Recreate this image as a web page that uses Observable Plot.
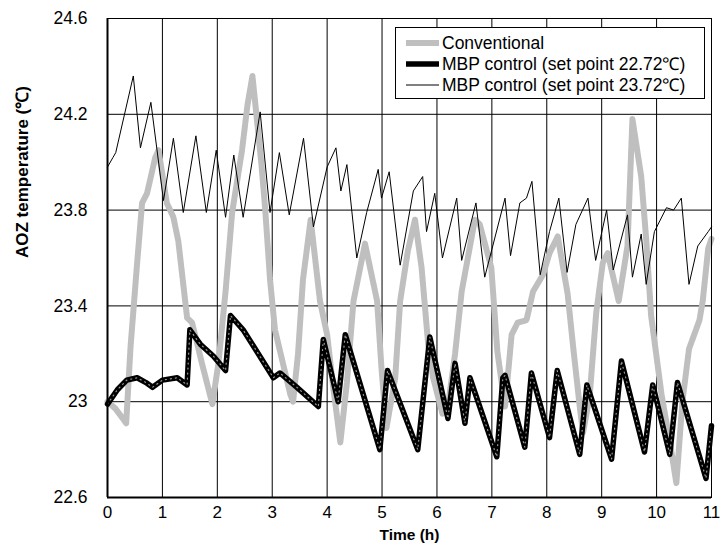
<!DOCTYPE html>
<html>
<head>
<meta charset="utf-8">
<script src="https://cdn.jsdelivr.net/npm/d3@7"></script>
<script src="https://cdn.jsdelivr.net/npm/@observablehq/plot@0.6"></script>
<style>
  html, body { margin: 0; padding: 0; background: #fff; }
  #wrap { position: relative; width: 720px; height: 548px; font-family: "Liberation Sans", Arial, sans-serif; }
  #legend { position: absolute; left: 395px; top: 27px; width: 308px; height: 70px; border: 1.5px solid #000; background: #fff; box-sizing: content-box; }
  .row { position: absolute; left: 0; height: 20px; font-size: 17.5px; line-height: 20px; white-space: nowrap; color: #000; }
  .row svg { position: absolute; left: 9px; top: 0; }
  .row span { position: absolute; left: 46px; top: 0; }
</style>
</head>
<body>
<div id="wrap">
  <div id="chart"></div>
  <div id="legend"></div>
</div>
<script>
// ---- data ----
const xTicks = [0,1,2,3,4,5,6,7,8,9,10,11];
const yTicks = [22.6,23,23.4,23.8,24.2,24.6];
const seriesNames = ["Conventional", "MBP control (set point 22.72\u2103)", "MBP control (set point 23.72\u2103)"];

const convTime = [0,0.15,0.34,0.42,0.54,0.63,0.72,0.87,0.93,1.08,1.2,1.29,1.45,1.54,1.72,1.91,2.02,2.15,2.27,2.45,2.55,2.64,2.72,2.8,2.87,2.96,3.05,3.33,3.38,3.47,3.56,3.7,3.87,4.0,4.1,4.24,4.36,4.48,4.69,4.91,4.99,5.08,5.24,5.33,5.47,5.6,5.72,5.84,5.93,6.1,6.2,6.33,6.45,6.69,6.78,6.99,7.1,7.24,7.36,7.47,7.63,7.75,7.93,8.05,8.2,8.38,8.48,8.6,8.66,8.78,8.9,9.02,9.11,9.31,9.47,9.56,9.6,9.72,9.81,9.9,10.09,10.25,10.36,10.47,10.59,10.78,10.84,10.94,11];
const convTemp = [23.0,22.97,22.91,23.23,23.58,23.83,23.87,24.02,24.05,23.83,23.77,23.67,23.35,23.33,23.16,22.99,23.16,23.46,23.79,24.05,24.24,24.36,24.18,24.0,23.81,23.51,23.3,23.03,23.0,23.2,23.51,23.76,23.42,23.28,23.08,22.83,23.08,23.42,23.66,23.42,23.14,22.89,23.1,23.42,23.63,23.76,23.56,23.24,23.1,22.95,22.98,23.2,23.46,23.76,23.74,23.56,23.21,22.98,23.28,23.33,23.34,23.46,23.53,23.62,23.69,23.45,23.23,22.98,22.87,23.02,23.37,23.58,23.62,23.42,23.65,24.18,24.12,23.94,23.68,23.36,23.03,22.82,22.66,23.0,23.22,23.34,23.42,23.64,23.68];

const mbp1Time = [0,0.18,0.35,0.54,0.7,0.82,1.0,1.27,1.45,1.5,1.69,1.93,2.15,2.24,2.47,2.72,3.02,3.14,3.45,3.84,3.93,4.2,4.33,4.96,5.1,5.65,5.87,6.2,6.33,6.51,6.6,7.09,7.2,7.24,7.6,7.72,8.05,8.19,8.6,8.73,9.18,9.36,9.78,9.93,10.24,10.38,10.9,11];
const mbp1Temp = [22.99,23.05,23.09,23.1,23.08,23.06,23.09,23.1,23.07,23.3,23.24,23.19,23.13,23.36,23.3,23.21,23.1,23.12,23.06,22.98,23.26,23.0,23.28,22.8,23.13,22.8,23.27,22.93,23.16,22.91,23.1,22.77,23.1,23.11,22.81,23.12,22.85,23.13,22.78,23.07,22.76,23.17,22.79,23.07,22.78,23.08,22.68,22.9];

const mbp2Time = [0,0.1,0.15,0.47,0.6,0.79,1.02,1.2,1.38,1.61,1.8,1.98,2.15,2.3,2.47,2.78,2.96,3.13,3.31,3.57,3.75,4.0,4.16,4.25,4.36,4.54,4.72,4.93,4.99,5.13,5.33,5.57,5.74,5.81,5.96,6.1,6.36,6.45,6.71,6.87,7.24,7.34,7.51,7.63,7.73,7.88,8.05,8.22,8.37,8.53,8.75,8.89,9.09,9.21,9.47,9.56,9.72,9.81,9.96,10.18,10.31,10.45,10.59,10.75,10.94,11];
const mbp2Temp = [23.98,24.02,24.04,24.36,24.06,24.25,23.84,24.1,23.79,24.11,23.79,24.05,23.77,24.03,23.77,24.21,23.79,24.04,23.78,24.1,23.73,23.98,24.06,23.88,23.99,23.6,23.79,23.97,23.85,23.96,23.57,23.88,23.94,23.71,23.87,23.6,23.85,23.59,23.83,23.52,23.85,23.61,23.83,23.85,23.92,23.53,23.71,23.85,23.54,23.74,23.85,23.59,23.8,23.55,23.78,23.52,23.7,23.49,23.71,23.81,23.8,23.85,23.49,23.65,23.71,23.73];

// ---- build tables ----
const conv = convTime.map((t,i) => ({t, v: convTemp[i]}));
const mbp1 = mbp1Time.map((t,i) => ({t, v: mbp1Temp[i]}));
const mbp2 = mbp2Time.map((t,i) => ({t, v: mbp2Temp[i]}));

const GRAY = "#bfbfbf";

const chart = Plot.plot({
  width: 720,
  height: 548,
  marginLeft: 107,
  marginRight: 9,
  marginTop: 18,
  marginBottom: 51,
  style: { fontFamily: "'Liberation Sans', Arial, sans-serif", fontSize: "17px", color: "#000", background: "#fff" },
  x: { domain: [0, 11] },
  y: { domain: [22.6, 24.6] },
  marks: [
    Plot.gridX(xTicks, { stroke: "#000", strokeOpacity: 1, strokeWidth: 1 }),
    Plot.gridY(yTicks, { stroke: "#000", strokeOpacity: 1, strokeWidth: 1 }),
    Plot.axisX(xTicks, { tickSize: 0, tickPadding: 8, label: null, fontSize: 17, tickFormat: d => String(d) }),
    Plot.axisY(yTicks, { tickSize: 0, tickPadding: 20, label: null, fontSize: 17.5, tickFormat: d => String(d) }),
    Plot.line(conv, { x: "t", y: "v", stroke: GRAY, strokeWidth: 6, strokeDasharray: "11,1.5", strokeLinejoin: "round" }),
    Plot.line(mbp1, { x: "t", y: "v", stroke: "#000", strokeWidth: 5.5, strokeLinejoin: "round" }),
    Plot.line(mbp1, { x: "t", y: "v", stroke: "#fff", strokeWidth: 1.2, strokeDasharray: "1,4", strokeOpacity: 0.6 }),
    Plot.line(mbp2, { x: "t", y: "v", stroke: "#000", strokeWidth: 1 }),
    Plot.frame({ stroke: "#000", strokeWidth: 1 }),
    Plot.ruleX([0], { stroke: "#000", strokeWidth: 2 }),
    Plot.ruleY([22.6], { stroke: "#000", strokeWidth: 2 }),
    Plot.text(["Time (h)"], { frameAnchor: "bottom", dy: 42, fontWeight: "bold", fontSize: 15.5, fill: "#000" }),
    Plot.text(["AOZ temperature (\u2103)"], { frameAnchor: "left", dx: -85, rotate: -90, fontWeight: "bold", fontSize: 17, fill: "#000" })
  ]
});
document.getElementById("chart").appendChild(chart);

// ---- legend ----
const legend = document.getElementById("legend");
const legendStyles = [
  { stroke: GRAY, width: 6, top: 5 },
  { stroke: "#000", width: 5.5, top: 26 },
  { stroke: "#000", width: 1, top: 47 }
];
seriesNames.forEach((name, i) => {
  const s = legendStyles[i];
  const row = document.createElement("div");
  row.className = "row";
  row.style.top = s.top + "px";
  row.innerHTML = `<svg width="36" height="20"><line x1="1" x2="34" y1="10" y2="10" stroke="${s.stroke}" stroke-width="${s.width}"/></svg><span>${name}</span>`;
  legend.appendChild(row);
});
</script>
</body>
</html>
